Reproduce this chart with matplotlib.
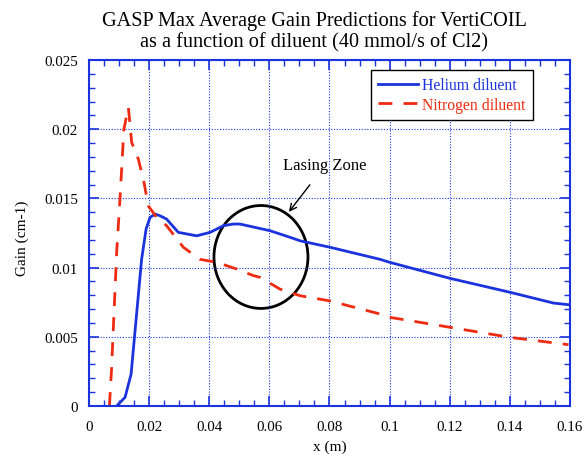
import matplotlib.pyplot as plt
from matplotlib.patches import Ellipse
from matplotlib.ticker import MultipleLocator, FormatStrFormatter

plt.rcParams['font.family'] = ['Liberation Serif', 'DejaVu Serif']

# Helium diluent curve
he_x = [0.0092, 0.012, 0.014, 0.0175, 0.019, 0.0203, 0.022, 0.0236, 0.0258, 0.0297,
        0.0358, 0.0403, 0.0447, 0.048, 0.0502, 0.0602, 0.0669, 0.0702, 0.0802, 0.0968,
        0.1001, 0.12, 0.14, 0.1545, 0.1595]
he_y = [0.0, 0.00063, 0.0023, 0.0106, 0.0128, 0.01363, 0.01387, 0.01375, 0.01351, 0.01255,
        0.0123, 0.01255, 0.01303, 0.01315, 0.01315, 0.01267, 0.01219, 0.01194, 0.01147, 0.0106,
        0.01038, 0.00923, 0.00822, 0.00744, 0.00732]

# Nitrogen diluent curve
n2_x = [0.0068, 0.0075, 0.0092, 0.0103, 0.0116, 0.0131, 0.0142, 0.0164, 0.0183, 0.0197,
        0.0225, 0.0258, 0.0314, 0.0369, 0.0425, 0.0491, 0.0547, 0.0569, 0.0635, 0.0702,
        0.08, 0.0968, 0.1, 0.12, 0.14, 0.1595]
n2_y = [0.0, 0.00267, 0.0111, 0.01495, 0.02, 0.02158, 0.01905, 0.01785, 0.01616, 0.01447,
        0.01363, 0.01303, 0.01147, 0.0106, 0.01038, 0.0099, 0.00942, 0.0093, 0.00845, 0.00797,
        0.0076, 0.00665, 0.00641, 0.00569, 0.00496, 0.00443]

blue = '#1a33dd'
red = '#ee2a10'

fig = plt.figure(figsize=(5.84, 4.56), dpi=100)
ax = fig.add_axes([0.1524, 0.1075, 0.8236, 0.7585])

ax.plot(he_x, he_y, color=blue, lw=2, label='Helium diluent')
ax.plot(n2_x, n2_y, color=red, lw=2, dashes=(5, 4), label='Nitrogen diluent')

ax.add_patch(Ellipse((0.0572, 0.01077), 0.03127, 0.00744, fill=False, ec='black', lw=2))
ax.annotate('Lasing Zone', xy=(0.0665, 0.01403), xytext=(0.0785, 0.0174),
            ha='center', va='center', fontsize=12,
            arrowprops=dict(arrowstyle='->', color='black', lw=1, shrinkA=8, shrinkB=0))

ax.set_xlim(0, 0.16)
ax.set_ylim(0, 0.025)
ax.xaxis.set_major_locator(MultipleLocator(0.02))
ax.xaxis.set_minor_locator(MultipleLocator(0.005))
ax.yaxis.set_major_locator(MultipleLocator(0.005))
ax.yaxis.set_minor_locator(MultipleLocator(0.001))
ax.xaxis.set_major_formatter(FormatStrFormatter('%g'))
ax.yaxis.set_major_formatter(FormatStrFormatter('%g'))

for s in ax.spines.values():
    s.set_color(blue)
    s.set_linewidth(1.5)
ax.tick_params(which='both', direction='in', top=True, right=True, color=blue, labelsize=10.8)
ax.tick_params(which='major', length=7, width=1.2, pad=8)
ax.tick_params(axis='x', which='major', pad=10)
ax.tick_params(which='minor', length=4, width=1)
ax.grid(True, which='major', color=blue, ls=(0, (1, 1.5)), lw=0.8)

ax.set_xlabel('x (m)', fontsize=11)
ax.xaxis.set_label_coords(0.5, -0.097)
ax.set_ylabel('Gain (cm-1)', fontsize=11)
ax.yaxis.set_label_coords(-0.124, 0.487)
ax.set_title('GASP Max Average Gain Predictions for VertiCOIL\nas a function of diluent (40 mmol/s of Cl2)',
             fontsize=14.6, linespacing=1.2, pad=9.5, x=0.468)

leg = ax.legend(loc='center', bbox_to_anchor=(0.7547, 0.899), fontsize=11.3, fancybox=False,
                framealpha=1, edgecolor='black', handlelength=2.55, handletextpad=0.25,
                borderpad=0.45, labelspacing=0.2)
leg.get_frame().set_linewidth(1)
for t, c in zip(leg.get_texts(), [blue, red]):
    t.set_color(c)

fig.savefig('out.png', dpi=100)
